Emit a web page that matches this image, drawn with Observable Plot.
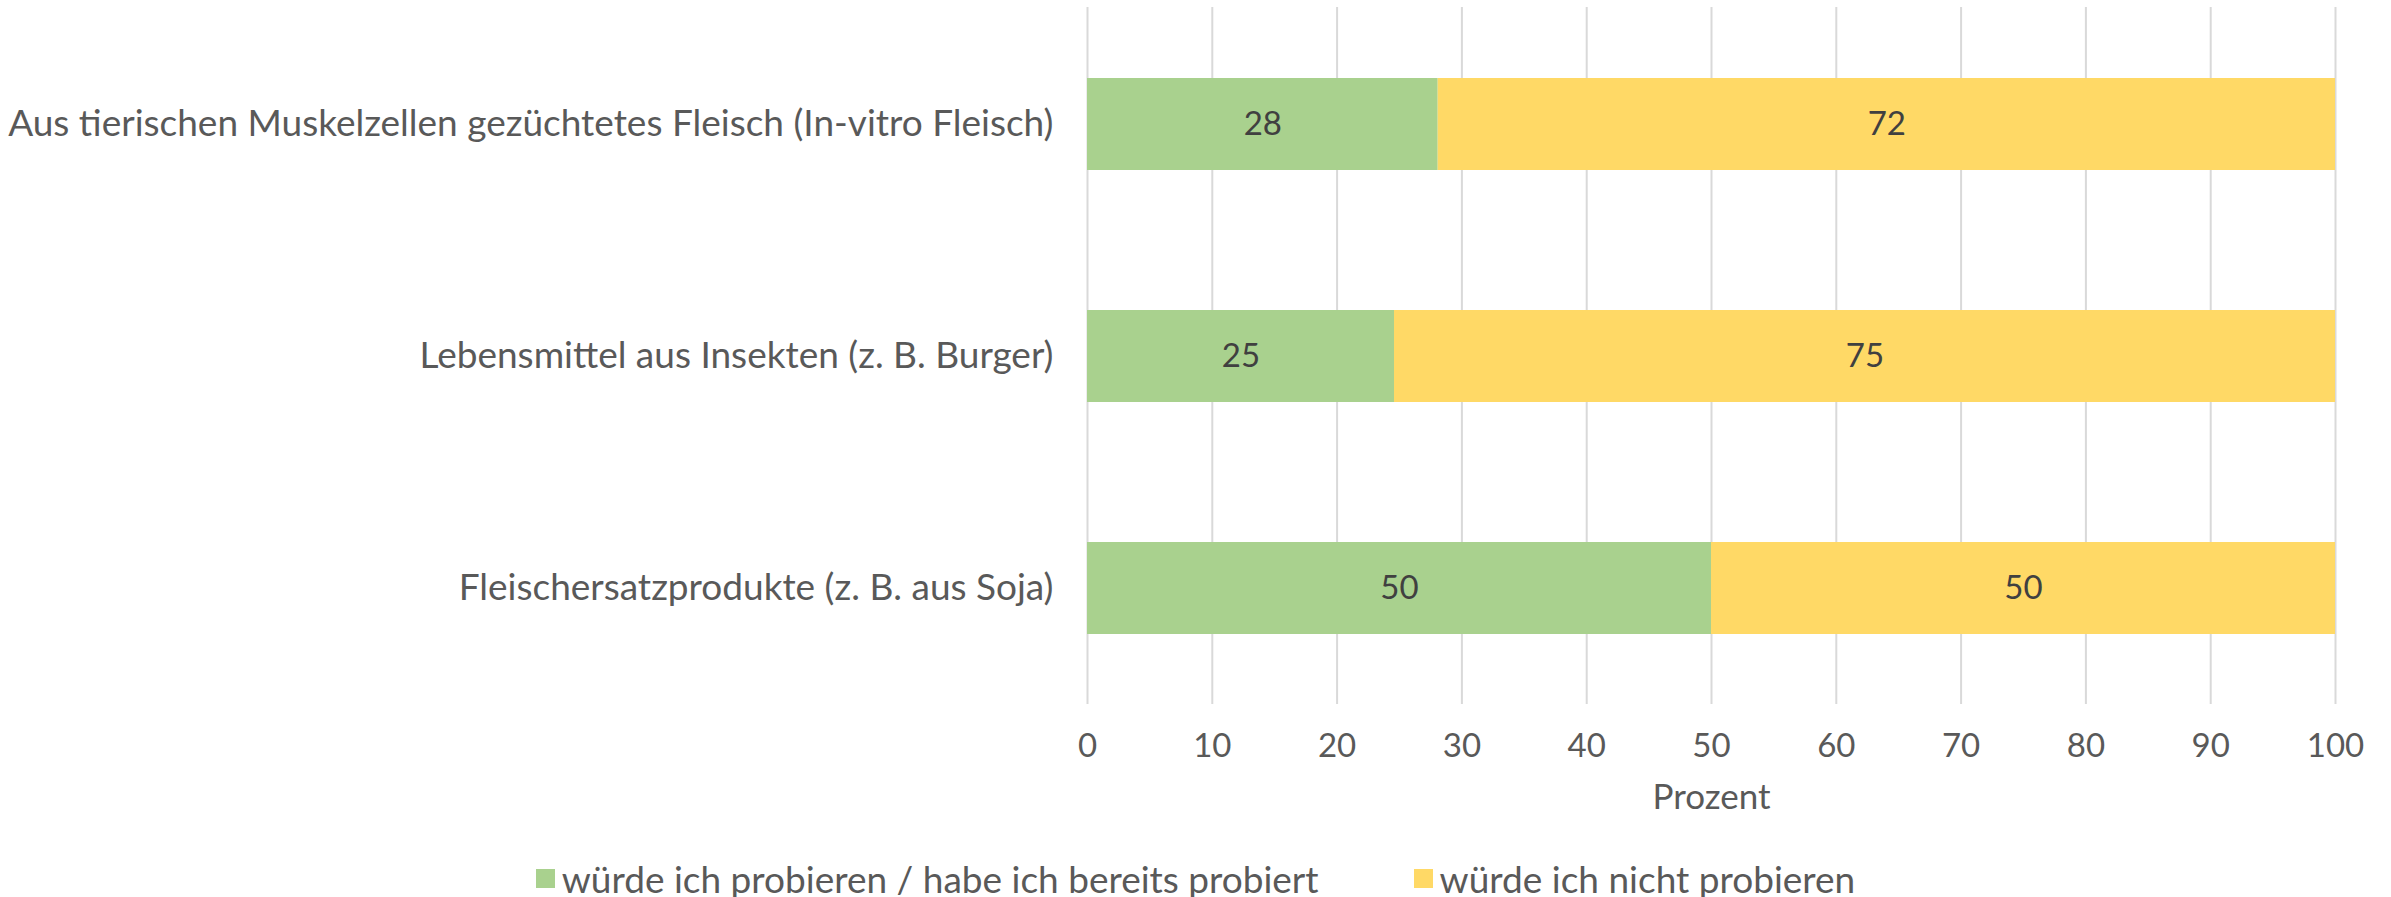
<!DOCTYPE html>
<html>
<head>
<meta charset="utf-8">
<script src="https://cdn.jsdelivr.net/npm/d3@7"></script>
<script src="https://cdn.jsdelivr.net/npm/@observablehq/plot@0.6"></script>
<style>
  html, body { margin: 0; padding: 0; background: #fff; }
  body { width: 2391px; font-family: Lato, "Noto Sans", sans-serif; }
  #legend { display: flex; justify-content: center; align-items: center; gap: 95px; font-size: 37px; color: #595959; height: 60px; margin-top: 16px; }
  .item { display: flex; align-items: center; gap: 7px; }
  .sw { width: 19px; height: 19px; display: inline-block; }
</style>
</head>
<body>
<div id="chart"></div>
<div id="legend"></div>
<script>
const categories = [
  "Aus tierischen Muskelzellen gezüchtetes Fleisch (In-vitro Fleisch)",
  "Lebensmittel aus Insekten (z. B. Burger)",
  "Fleischersatzprodukte (z. B. aus Soja)"
];
const seriesNames = ["würde ich probieren / habe ich bereits probiert", "würde ich nicht probieren"];
const tryValues = [28.1, 24.6, 50];
const notTryValues = [71.9, 75.4, 50];
const xTicks = [0, 10, 20, 30, 40, 50, 60, 70, 80, 90, 100];
const axisTitle = "Prozent";
const colors = ["#A9D18E", "#FFD966"];

const data = [];
categories.forEach((c, i) => {
  data.push({category: c, series: seriesNames[0], value: tryValues[i]});
  data.push({category: c, series: seriesNames[1], value: notTryValues[i]});
});

const W = 2391, H = 832;
const chart = Plot.plot({
  width: W,
  height: H,
  marginLeft: 1087,
  marginRight: 56,
  marginTop: 7,
  marginBottom: H - 704,
  style: {fontFamily: "Lato, 'Noto Sans', sans-serif", color: "#595959", background: "#fff"},
  x: {domain: [0, 100], ticks: xTicks},
  y: {domain: categories, paddingInner: 0.604, paddingOuter: 0.302},
  color: {domain: seriesNames, range: colors},
  marks: [
    Plot.gridX(xTicks, {stroke: "#D9D9D9", strokeOpacity: 1, strokeWidth: 2}),
    Plot.barX(data, Plot.stackX({x: "value", y: "category", fill: "series", order: seriesNames})),
    Plot.text(data, Plot.stackX({x: "value", y: "category", z: "series", order: seriesNames,
      text: d => d3.format(".0f")(d.value), fill: "#404040", fontSize: 33})),
    Plot.axisX({ticks: xTicks, tickSize: 0, tickPadding: 29, fontSize: 33, label: null, fill: "#595959"}),
    Plot.axisY({tickSize: 0, tickPadding: 34, fontSize: 37, label: null, fill: "#595959"}),
    Plot.text([axisTitle], {frameAnchor: "bottom", dy: 93, fontSize: 35, fill: "#595959", lineAnchor: "middle"})
  ]
});
document.getElementById("chart").appendChild(chart);

const legend = document.getElementById("legend");
seriesNames.forEach((name, i) => {
  const item = document.createElement("div");
  item.className = "item";
  const sw = document.createElement("span");
  sw.className = "sw";
  sw.style.background = colors[i];
  const t = document.createElement("span");
  t.textContent = name;
  item.appendChild(sw);
  item.appendChild(t);
  legend.appendChild(item);
});
</script>
</body>
</html>
